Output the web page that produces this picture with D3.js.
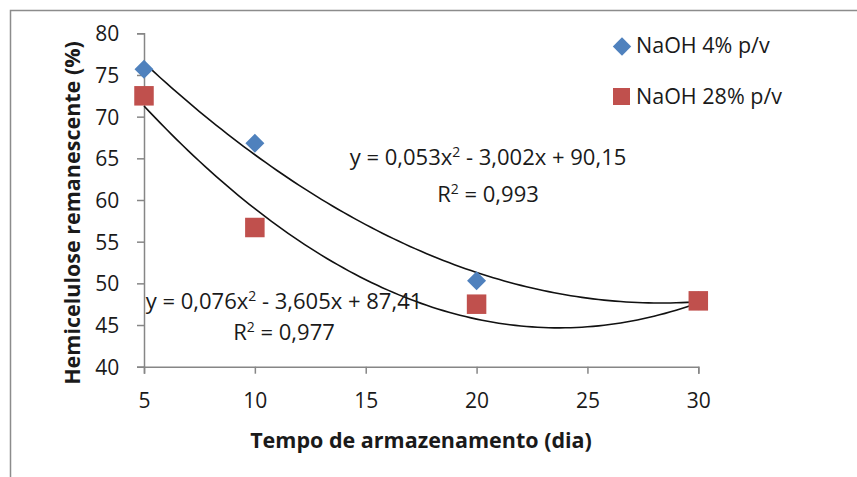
<!DOCTYPE html>
<html>
<head>
<meta charset="utf-8">
<script src="https://cdn.jsdelivr.net/npm/d3@7"></script>
<style>
  html, body { margin: 0; padding: 0; background: #fff; }
  svg { display: block; font-family: "Open Sans", Lato, sans-serif; }
</style>
</head>
<body>
<svg id="chart" width="857" height="477"></svg>
<script>
// Storage time (days)
const days = [5, 10, 20, 30];
// Remaining hemicellulose (%)
const naoh4 = [75.7, 66.8, 50.3, 47.9];
const naoh28 = [72.5, 56.7, 47.5, 47.9];
// Quadratic trend coefficients [a, b, c] for y = a x^2 + b x + c
const fit4 = [0.053, -3.002, 90.15];
const fit28 = [0.076, -3.605, 87.41];
const fitLabels4 = ["y = 0,053x", " - 3,002x + 90,15", "R", " = 0,993"];
const fitLabels28 = ["y = 0,076x", " - 3,605x + 87,41", "R", " = 0,977"];
const seriesNames = ["NaOH 4% p/v", "NaOH 28% p/v"];
const xTicks = [5, 10, 15, 20, 25, 30];
const yTicks = [40, 45, 50, 55, 60, 65, 70, 75, 80];

const svg = d3.select("#chart");
const blue = "#4F81BD", red = "#C0504D", axisGrey = "#868686", ink = "#1a1a1a";
const font = "'Open Sans', Lato, sans-serif";

// outer chart frame (left and top edges visible)
svg.append("rect").attr("x", 10.5).attr("y", 10.5).attr("width", 900).attr("height", 600)
  .attr("fill", "none").attr("stroke", "#8c8c8c").attr("stroke-width", 1.5);

const x = d3.scaleLinear().domain([5, 30]).range([144, 698.3]);
const y = d3.scaleLinear().domain([40, 80]).range([366.7, 33.3]);

// axes
const xAxis = svg.append("g").attr("transform", `translate(0,${y(40)})`)
  .call(d3.axisBottom(x).tickValues(xTicks).tickSize(7).tickFormat(d3.format("d")));
const yAxis = svg.append("g").attr("transform", `translate(${x(5)},0)`)
  .call(d3.axisLeft(y).tickValues(yTicks).tickSize(7).tickFormat(d3.format("d")));
[xAxis, yAxis].forEach(g => {
  g.select(".domain").attr("stroke", axisGrey).attr("stroke-width", 1.5);
  g.selectAll(".tick line").attr("stroke", axisGrey).attr("stroke-width", 1.5);
  g.selectAll(".tick text").attr("fill", ink).attr("font-size", 21).attr("font-family", font);
});
xAxis.selectAll(".tick text").attr("y", 41.5).attr("dy", null);
yAxis.selectAll(".tick text").attr("x", -24.7).attr("dy", "0.36em");

// axis titles
svg.append("text").attr("x", 421).attr("y", 448).attr("text-anchor", "middle")
  .attr("font-weight", "bold").attr("font-size", 21.5).attr("fill", ink)
  .text("Tempo de armazenamento (dia)");
svg.append("text").attr("transform", "translate(79.5,213) rotate(-90)").attr("text-anchor", "middle")
  .attr("font-weight", "bold").attr("font-size", 21.5).attr("fill", ink)
  .text("Hemicelulose remanescente (%)");

// polynomial trend curves
const poly = (c, t) => c[0] * t * t + c[1] * t + c[2];
const samples = d3.range(5, 30.001, 0.25);
const line = d3.line().x(d => x(d[0])).y(d => y(d[1]));
[fit4, fit28].forEach(c => {
  svg.append("path").attr("d", line(samples.map(t => [t, poly(c, t)])))
    .attr("fill", "none").attr("stroke", "#111").attr("stroke-width", 1.6);
});

// markers
function drawDiamond(g, cx, cy, r) {
  g.append("path")
    .attr("d", `M${cx},${cy - r}L${cx + r},${cy}L${cx},${cy + r}L${cx - r},${cy}Z`)
    .attr("fill", blue);
}
days.forEach((d, i) => drawDiamond(svg, x(d), y(naoh4[i]), 9.5));
days.forEach((d, i) => {
  svg.append("rect").attr("x", x(d) - 9.75).attr("y", y(naoh28[i]) - 9.75)
    .attr("width", 19.5).attr("height", 19.5).attr("fill", red);
});

// trend equation labels
function equation(cx, by1, by2, parts) {
  const t1 = svg.append("text").attr("x", cx).attr("y", by1).attr("text-anchor", "middle")
    .attr("font-size", 22).attr("fill", ink);
  t1.append("tspan").text(parts[0]);
  t1.append("tspan").attr("dy", -8).attr("font-size", 14).text("2");
  t1.append("tspan").attr("dy", 8).text(parts[1]);
  const t2 = svg.append("text").attr("x", cx).attr("y", by2).attr("text-anchor", "middle")
    .attr("font-size", 22).attr("fill", ink);
  t2.append("tspan").text(parts[2]);
  t2.append("tspan").attr("dy", -8).attr("font-size", 14).text("2");
  t2.append("tspan").attr("dy", 8).text(parts[3]);
}
equation(488, 165, 201.5, fitLabels4);
equation(284, 309, 340, fitLabels28);

// legend
const legend = svg.append("g");
drawDiamond(legend, 622, 46.5, 9.2);
legend.append("rect").attr("x", 613).attr("y", 88).attr("width", 17).attr("height", 17).attr("fill", red);
legend.append("text").attr("x", 636).attr("y", 52.5).attr("font-size", 21.5).attr("fill", ink).text(seriesNames[0]);
legend.append("text").attr("x", 636).attr("y", 104).attr("font-size", 21.5).attr("fill", ink).text(seriesNames[1]);
</script>
</body>
</html>
